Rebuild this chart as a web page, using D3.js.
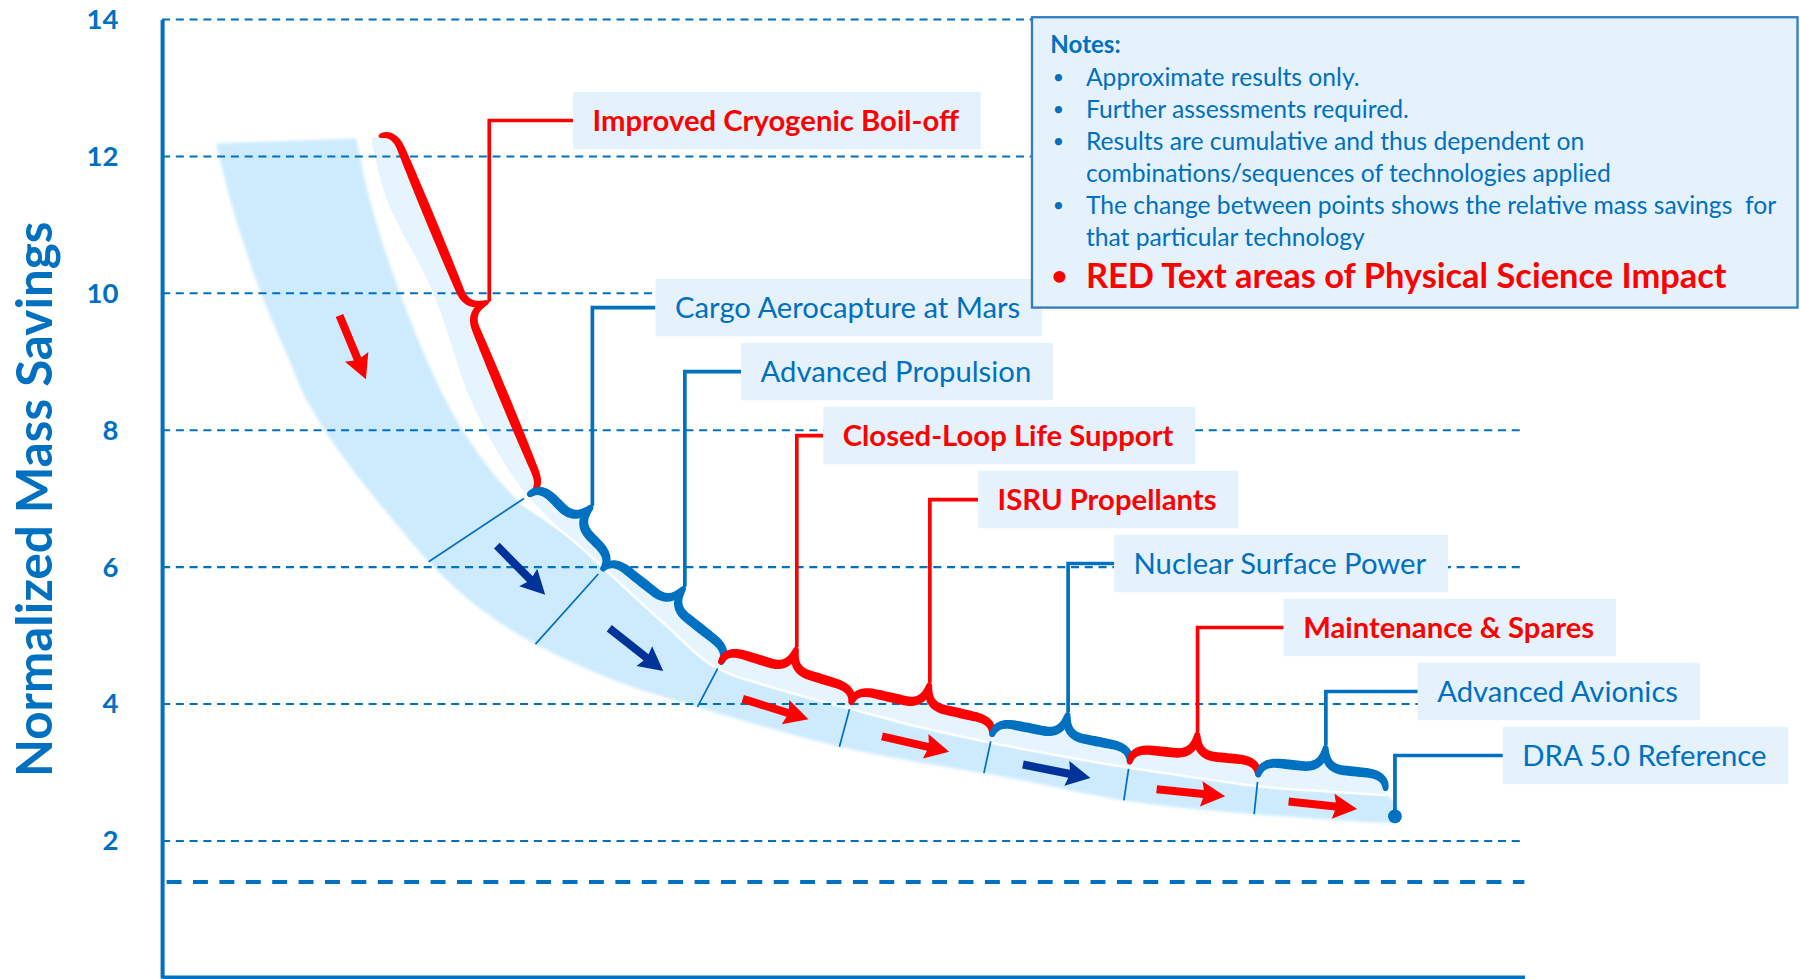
<!DOCTYPE html>
<html>
<head>
<meta charset="utf-8">
<script src="https://cdn.jsdelivr.net/npm/d3@7/dist/d3.min.js"></script>
<style>
  html, body { margin:0; padding:0; background:#ffffff; overflow:hidden; }
  svg { display:block; }
  text { font-family: Lato, "Noto Sans", "Open Sans", sans-serif; white-space: pre; }
</style>
</head>
<body>
<svg id="chart" width="1800" height="979" viewBox="0 0 1568 853"></svg>
<script>
// ================= DATA =================
const technologies = [
  "Improved Cryogenic Boil-off", "Cargo Aerocapture at Mars", "Advanced Propulsion",
  "Closed-Loop Life Support", "ISRU Propellants", "Nuclear Surface Power",
  "Maintenance & Spares", "Advanced Avionics"
];
const physicalScience = [true, false, false, true, true, false, true, false];
// cumulative points: start of first technology ... end of last technology
const stepPosition = [3.18, 5.37, 6.45, 8.19, 10.11, 12.18, 14.20, 16.09, 17.96];
const stepValue    = [12.29, 7.04, 5.95, 4.58, 3.99, 3.52, 3.12, 2.93, 2.73];
const referenceName = "DRA 5.0 Reference";
const referencePosition = 18.10;
const referenceValue = 2.36;
const yTickValues = [2, 4, 6, 8, 10, 12, 14];
const thresholdValue = 1.4;
// trend band edges [position, value]
const bandUpper = [[2.85,12.26],[3.05,11.37],[3.49,10.01],[4.16,8.45],[4.70,7.58],[5.24,6.96],[5.95,6.46],
  [6.61,5.87],[7.40,5.15],[8.09,4.56],[9.08,4.21],[10.08,3.94],[11.10,3.67],[12.15,3.44],[13.21,3.24],
  [14.20,3.07],[15.15,2.93],[16.09,2.80],[17.00,2.73],[17.96,2.67],[18.18,2.45]];
const bandLower = [[0.79,12.19],[1.08,11.10],[1.45,10.01],[1.84,9.09],[2.12,8.45],[2.68,7.58],[3.35,6.74],
  [3.99,6.00],[4.70,5.37],[5.53,4.85],[6.61,4.36],[7.92,3.94],[9.89,3.39],[11.10,3.15],[12.30,2.95],
  [14.20,2.58],[16.16,2.38],[18.10,2.25]];
const stripInner = [[3.07,12.26],[3.30,11.37],[3.98,10.01],[4.53,8.45],[4.99,7.58]];
const arrowPhysical = [true, false, false, true, true, false, true, true];
const notesTitle = "Notes:";
const notes = [
  ["Approximate results only."],
  ["Further assessments required."],
  ["Results are cumulative and thus dependent on", "combinations/sequences of technologies applied"],
  ["The change between points shows the relative mass savings  for", "that particular technology"]
];
const notesHighlight = "RED Text areas of Physical Science Impact";
const yTitle = "Normalized Mass Savings";

// ================= LAYOUT / STYLE =================
const BLUE = "#0070C0", RED = "#FF0000", NAVY = "#003399";
const BAND = "#CDEBFD", STRIP = "#E6F4FE", BOXFILL = "#E5F2FC";
const plot = { left: 141, right: 1328, top: 17, bottom: 852 };
const labelGap = [73, 55, 49, 23, 42, 40, 75, 80, 94];
const labelRowY = i => i === 0 ? 105 : 268 + (i - 1) * 55.75;
const braceSpine = 14, braceTip = 34, braceWidth = 8.5;

const svg = d3.select("#chart");
const x = d3.scaleLinear().domain([0, 20]).range([plot.left, plot.right]);
const y = d3.scaleLinear().domain([0, 14]).range([plot.bottom, plot.top]);
const pt = d => [x(d[0]), y(d[1])];
const steps = stepPosition.map((p, i) => [x(p), y(stepValue[i])]);
const unit = v => { const l = Math.hypot(v[0], v[1]); return [v[0] / l, v[1] / l]; };

const defs = svg.append("defs");
defs.append("filter").attr("id", "soft").attr("x", "-5%").attr("y", "-5%").attr("width", "110%").attr("height", "110%")
  .append("feGaussianBlur").attr("stdDeviation", 1.4);

// ----- band -----
const lineGen = d3.line().curve(d3.curveCatmullRom.alpha(0.5));
const upperPx = bandUpper.map(pt), lowerPx = bandLower.map(pt);
const upperD = lineGen(upperPx), lowerD = lineGen(lowerPx);
const bandD = upperD + "L" + lineGen(lowerPx.slice().reverse()).slice(1) + "Z";
svg.append("path").attr("d", bandD).attr("fill", BAND).attr("filter", "url(#soft)");

// brace helper
function braceInto(ctx, A, B, s, t, move) {
  const dx = B[0] - A[0], dy = B[1] - A[1], L = Math.hypot(dx, dy);
  const d = [dx / L, dy / L], n = [d[1], -d[0]];
  const r = Math.min(18, L / 5);
  const P = (u, v) => [A[0] + u * d[0] + v * n[0], A[1] + u * d[1] + v * n[1]];
  if (move) ctx.moveTo(...P(0, 0));
  ctx.quadraticCurveTo(...P(0, s), ...P(r, s));
  ctx.lineTo(...P(L / 2 - r, s));
  ctx.quadraticCurveTo(...P(L / 2, s), ...P(L / 2, t));
  ctx.quadraticCurveTo(...P(L / 2, s), ...P(L / 2 + r, s));
  ctx.lineTo(...P(L - r, s));
  ctx.quadraticCurveTo(...P(L, s), ...P(L, 0));
  return P(L / 2, t);
}

// ----- light strip under the braces -----
const chain = d3.path();
chain.moveTo(...steps[0]);
for (let i = 0; i < technologies.length; i++) braceInto(chain, steps[i], steps[i + 1], braceSpine, braceTip, false);
const stripLower = stripInner.map(pt).concat([steps[1]])
  .concat(upperPx.filter(p => p[0] > steps[1][0] + 1 && p[0] <= steps[steps.length - 1][0] + 1));
const stripD = chain.toString() + "L" + lineGen(stripLower.slice().reverse()).slice(1) + "Z";
svg.append("path").attr("d", stripD).attr("fill", STRIP);

// white highlight along band top
svg.append("path").attr("d", lineGen(upperPx.filter(p => p[0] >= steps[1][0] - 12 && p[0] <= steps[steps.length - 1][0] + 1)))
  .attr("fill", "none").attr("stroke", "#ffffff").attr("stroke-width", 2).attr("opacity", 0.95);

// ----- gridlines -----
const grid = svg.append("g");
grid.selectAll("line.g").data(yTickValues).join("line")
  .attr("x1", x(0)).attr("x2", x(20)).attr("y1", d => y(d)).attr("y2", d => y(d))
  .attr("stroke", BLUE).attr("stroke-width", 1.8).attr("stroke-dasharray", "7 5");
grid.append("line").attr("x1", x(0) + 4).attr("x2", x(20)).attr("y1", y(thresholdValue)).attr("y2", y(thresholdValue))
  .attr("stroke", BLUE).attr("stroke-width", 3.6).attr("stroke-dasharray", "13 10");

// ----- sampling for band geometry -----
function samplePath(d, n) {
  const p = svg.append("path").attr("d", d).attr("fill", "none");
  const node = p.node(), len = node.getTotalLength();
  const pts = d3.range(n + 1).map(k => { const q = node.getPointAtLength(len * k / n); return [q.x, q.y]; });
  p.remove();
  return pts;
}
function rayHit(O, D, poly) {
  let best = Infinity, hit = null;
  for (let k = 0; k < poly.length - 1; k++) {
    const a = poly[k], b = poly[k + 1];
    const ex = b[0] - a[0], ey = b[1] - a[1];
    const den = D[0] * ey - D[1] * ex;
    if (Math.abs(den) < 1e-9) continue;
    const wx = a[0] - O[0], wy = a[1] - O[1];
    const t = (wx * ey - wy * ex) / den;
    const u = (wx * D[1] - wy * D[0]) / den;
    if (t > 0 && u >= 0 && u <= 1 && t < best) { best = t; hit = [O[0] + t * D[0], O[1] + t * D[1]]; }
  }
  return hit;
}
const upperS = samplePath(upperD, 800), lowerS = samplePath(lowerD, 800);

// ----- dividers across the band -----
const sections = [[lowerPx[0], upperPx[0]]];
for (let i = 1; i < steps.length - 1; i++) {
  const a = unit([steps[i][0] - steps[i - 1][0], steps[i][1] - steps[i - 1][1]]);
  const b = unit([steps[i + 1][0] - steps[i][0], steps[i + 1][1] - steps[i][1]]);
  const m = unit([a[0] + b[0], a[1] + b[1]]);
  const inward = [-m[1], m[0]];
  const start = [steps[i][0] + 4 * inward[0], steps[i][1] + 4 * inward[1]];
  const end = rayHit(steps[i], inward, lowerS) || [steps[i][0] + 40 * inward[0], steps[i][1] + 40 * inward[1]];
  sections.push([start, end]);
}
sections.push([lowerPx[lowerPx.length - 1], upperPx[upperPx.length - 2]]);
svg.append("g").selectAll("line").data(sections.slice(1, -1)).join("line")
  .attr("x1", d => d[0][0]).attr("y1", d => d[0][1]).attr("x2", d => d[1][0]).attr("y2", d => d[1][1])
  .attr("stroke", BLUE).attr("stroke-width", 1.5);

// ----- arrows -----
function arrowPath(c, d, L) {
  const n = [d[1], -d[0]], w = 3.5, Hh = 11, h = 21;
  const P = (u, v) => [c[0] + u * d[0] + v * n[0], c[1] + u * d[1] + v * n[1]];
  const pts = [P(-L / 2, -w), P(L / 2 - h + 2, -w), P(L / 2 - h, -Hh), P(L / 2, 0), P(L / 2 - h, Hh), P(L / 2 - h + 2, w), P(-L / 2, w)];
  return "M" + pts.map(p => p.join(",")).join("L") + "Z";
}
const mid = s => [(s[0][0] + s[1][0]) / 2, (s[0][1] + s[1][1]) / 2];
const arrows = technologies.map((t, i) => {
  const m1 = mid(sections[i]), m2 = mid(sections[i + 1]);
  let c = [(m1[0] + m2[0]) / 2, (m1[1] + m2[1]) / 2];
  const d = unit([steps[i + 1][0] - steps[i][0], steps[i + 1][1] - steps[i][1]]);
  const n = [d[1], -d[0]];
  const up = rayHit(c, n, upperS), lo = rayHit(c, [-n[0], -n[1]], lowerS);
  if (up && lo) c = [(up[0] + lo[0]) / 2, (up[1] + lo[1]) / 2];
  return { c, d, red: arrowPhysical[i] };
});
svg.append("g").selectAll("path").data(arrows).join("path")
  .attr("d", a => arrowPath(a.c, a.d, 60))
  .attr("fill", a => a.red ? RED : NAVY);

// ----- tapered brace outline from a centre path -----
function taperedOutline(centreD, W) {
  const p = svg.append("path").attr("d", centreD).attr("fill", "none");
  const node = p.node(), len = node.getTotalLength(), N = 160;
  const c = d3.range(N + 1).map(k => { const q = node.getPointAtLength(len * k / N); return [q.x, q.y]; });
  p.remove();
  const left = [], right = [];
  c.forEach((q, k) => {
    const a = c[Math.max(0, k - 1)], b = c[Math.min(N, k + 1)];
    const tg = unit([b[0] - a[0], b[1] - a[1]]);
    const nn = [-tg[1], tg[0]];
    const f = k / N;
    const g = f < 0.5 ? f * 2 : (f - 0.5) * 2;
    const w = W * (0.2 + 0.8 * Math.pow(Math.sin(Math.PI * g), 0.3)) / 2;
    left.push([q[0] + nn[0] * w, q[1] + nn[1] * w]);
    right.push([q[0] - nn[0] * w, q[1] - nn[1] * w]);
  });
  return d3.line()(left.concat(right.reverse())) + "Z";
}

// ----- braces + leaders + labels -----
const labels = svg.append("g");
const tips = [];
technologies.forEach((name, i) => {
  const p = d3.path();
  const tip = braceInto(p, steps[i], steps[i + 1], braceSpine, braceTip, true);
  tips.push(tip);
  const col = physicalScience[i] ? RED : BLUE;
  labels.append("path").attr("d", taperedOutline(p.toString(), braceWidth)).attr("fill", col);
});

const dot = [x(referencePosition), y(referenceValue)];
const labelItems = technologies.map((name, i) => ({ name, col: physicalScience[i] ? RED : BLUE, bold: physicalScience[i], anchor: tips[i] }))
  .concat([{ name: referenceName, col: BLUE, bold: false, anchor: dot }]);

labelItems.forEach((it, i) => {
  const ly = labelRowY(i);
  const bx = it.anchor[0] + labelGap[i];
  labels.append("path").attr("d", `M${it.anchor[0]},${it.anchor[1]}V${ly}H${bx}`)
    .attr("fill", "none").attr("stroke", it.col).attr("stroke-width", 3.2);
  const box = labels.append("rect").attr("x", bx).attr("y", ly - 25).attr("height", 50).attr("fill", BOXFILL);
  const tx = labels.append("text").attr("x", bx + 17).attr("y", ly).attr("dy", "0.36em")
    .attr("font-size", 25.5).attr("font-weight", it.bold ? 700 : 400).attr("fill", it.col).text(it.name);
  box.attr("width", tx.node().getComputedTextLength() + 36);
});
labels.append("circle").attr("cx", dot[0]).attr("cy", dot[1]).attr("r", 6).attr("fill", BLUE);

// ----- axes -----
const yAxis = svg.append("g").attr("transform", `translate(${plot.left},0)`)
  .call(d3.axisLeft(y).tickValues(yTickValues).tickSize(0).tickSizeOuter(0).tickPadding(38).tickFormat(d3.format("d")));
yAxis.select(".domain").attr("stroke", BLUE).attr("stroke-width", 3.5);
yAxis.selectAll("text").attr("fill", BLUE).attr("font-size", 24).attr("font-weight", 700)
  .attr("font-family", "Lato, 'Noto Sans', sans-serif");
const xAxis = svg.append("g").attr("transform", `translate(0,${plot.bottom - 1})`)
  .call(d3.axisBottom(x).tickValues([]).tickSizeOuter(0));
xAxis.select(".domain").attr("stroke", BLUE).attr("stroke-width", 3.2);

svg.append("text").attr("transform", "translate(30,435) rotate(-90)").attr("text-anchor", "middle").attr("dy", "0.36em")
  .attr("font-size", 43).attr("font-weight", 700).attr("fill", BLUE).text(yTitle);

// ----- notes box -----
const nb = svg.append("g");
nb.append("rect").attr("x", 899).attr("y", 15).attr("width", 667).attr("height", 253)
  .attr("fill", BOXFILL).attr("stroke", "#2F7CC4").attr("stroke-width", 2);
nb.append("text").attr("x", 915).attr("y", 39).attr("dy", "0.36em").attr("font-size", 21).attr("font-weight", 700)
  .attr("fill", BLUE).text(notesTitle);
let row = 0;
notes.forEach(lines => {
  lines.forEach((ln, k) => {
    const yy = 67 + row * 27.9;
    if (k === 0) nb.append("text").attr("x", 917).attr("y", yy).attr("dy", "0.36em").attr("font-size", 17).attr("fill", BLUE).text("•");
    nb.append("text").attr("x", 946).attr("y", yy).attr("dy", "0.36em").attr("font-size", 21.5).attr("fill", BLUE).text(ln);
    row++;
  });
});
nb.append("text").attr("x", 916).attr("y", 240).attr("dy", "0.36em").attr("font-size", 24).attr("font-weight", 700).attr("fill", RED).text("•");
nb.append("text").attr("x", 946).attr("y", 240).attr("dy", "0.36em").attr("font-size", 30).attr("font-weight", 700).attr("fill", RED).text(notesHighlight);
</script>
</body>
</html>
